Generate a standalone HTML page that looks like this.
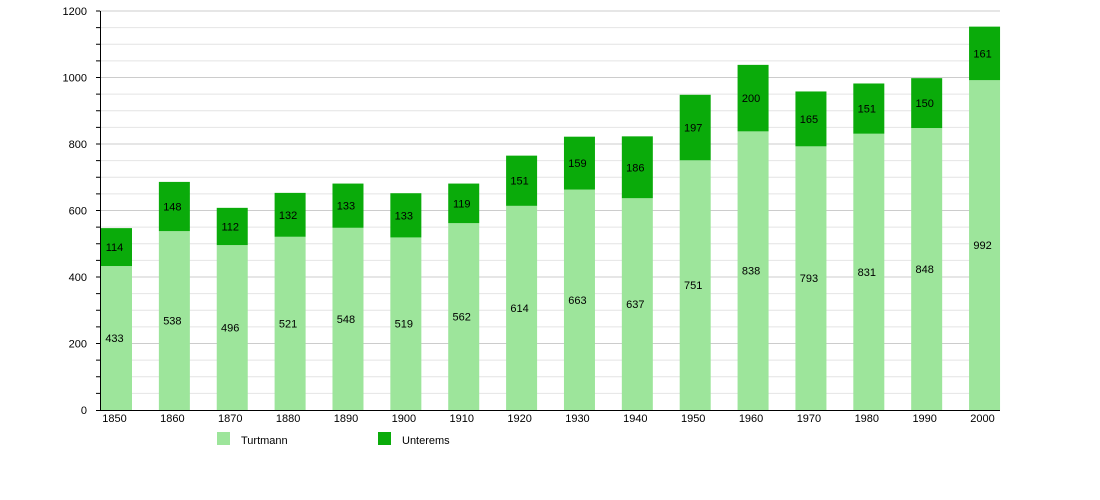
<!DOCTYPE html>
<html><head><meta charset="utf-8"><style>body{margin:0;background:#fff}svg{display:block;font-family:"Liberation Sans",sans-serif}</style></head>
<body>
<svg width="1100" height="500" xmlns="http://www.w3.org/2000/svg" id="s"></svg>
<script>
const T=[433,538,496,521,548,519,562,614,663,637,751,838,793,831,848,992];
const U=[114,148,112,132,133,133,119,151,159,186,197,200,165,151,150,161];
const Y=v=>410-v*399/1200;
let h='';
for(let v=50;v<=1200;v+=50){const y=Y(v);h+=`<line x1="100" x2="1000" y1="${y}" y2="${y}" stroke="${v%200==0?'#ccc':'#e4e4e4'}" stroke-width="1"/><line x1="96" x2="100" y1="${y}" y2="${y}" stroke="#000"/>`;}
for(let v=0;v<=1200;v+=200){h+=`<text x="87" y="${Y(v)+4}" font-size="11" text-anchor="end">${v}</text>`;}
for(let i=0;i<16;i++){const x=101+i*57.87,c=x+13.5;
h+=`<rect x="${x}" y="${Y(T[i])}" width="31" height="${410-Y(T[i])}" fill="#9de59b"/>`;
h+=`<rect x="${x}" y="${Y(T[i]+U[i])}" width="31" height="${Y(T[i])-Y(T[i]+U[i])}" fill="#0aab0a"/>`;
h+=`<text x="${c}" y="${(410+Y(T[i]))/2+4}" font-size="11" text-anchor="middle">${T[i]}</text>`;
h+=`<text x="${c}" y="${(Y(T[i])+Y(T[i]+U[i]))/2+4}" font-size="11" text-anchor="middle">${U[i]}</text>`;
h+=`<text x="${c}" y="422" font-size="11" text-anchor="middle">${1850+i*10}</text>`;}
h+=`<line x1="100.5" x2="100.5" y1="11" y2="411" stroke="#000"/><line x1="96" x2="1000" y1="410.5" y2="410.5" stroke="#000"/>`;
h+=`<rect x="217" y="432" width="13" height="13" fill="#9de59b"/><text x="241" y="444" font-size="11">Turtmann</text>`;
h+=`<rect x="378" y="432" width="13" height="13" fill="#0aab0a"/><text x="402" y="444" font-size="11">Unterems</text>`;
document.getElementById('s').innerHTML=h;
</script>
</body></html>
